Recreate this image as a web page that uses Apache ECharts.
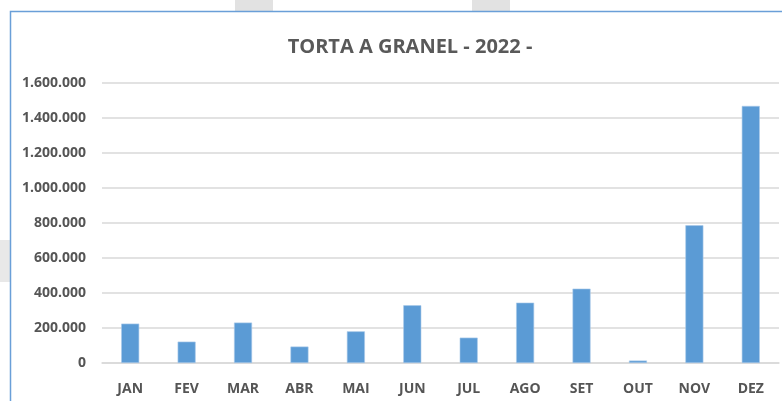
<!DOCTYPE html>
<html>
<head>
<meta charset="utf-8">
<script src="https://cdn.jsdelivr.net/npm/echarts@6/dist/echarts.min.js"></script>
<style>
  html, body { margin: 0; padding: 0; background: #fff; }
  #chart { width: 782px; height: 401px; }
</style>
</head>
<body>
<div id="chart"></div>
<script>
const months = ['JAN', 'FEV', 'MAR', 'ABR', 'MAI', 'JUN', 'JUL', 'AGO', 'SET', 'OUT', 'NOV', 'DEZ'];
const volumes = [225000, 122000, 231000, 94000, 181000, 330000, 145000, 345000, 425000, 14000, 787000, 1469000];
const yTicks = [0, 200000, 400000, 600000, 800000, 1000000, 1200000, 1400000, 1600000];

const labelFont = '"Liberation Sans Narrow", "Open Sans", sans-serif';

// 1600000 -> 1.600.000
function fmt(v) {
  return String(v).replace(/\B(?=(\d{3})+(?!\d))/g, '.');
}

const chart = echarts.init(document.getElementById('chart'));

chart.setOption({
  animation: false,
  title: {
    text: 'TORTA A GRANEL - 2022 -',
    left: 405,
    textAlign: 'center',
    top: 32,
    textStyle: {
      fontFamily: labelFont,
      fontSize: 20,
      fontWeight: 'bold',
      color: '#595959'
    }
  },
  graphic: [
    // pieces of the page behind the chart box
    { type: 'rect', shape: { x: 235, y: 0, width: 38, height: 12 }, style: { fill: '#e2e2e2' }, z: -10 },
    { type: 'rect', shape: { x: 472, y: 0, width: 38, height: 12 }, style: { fill: '#e2e2e2' }, z: -10 },
    { type: 'rect', shape: { x: 0, y: 240, width: 10, height: 42 }, style: { fill: '#e8e8e8' }, z: -10 },
    // chart box border
    {
      type: 'polyline',
      shape: { points: [[10.5, 410], [10.5, 11.5], [800, 11.5]] },
      style: { stroke: '#6a9fd8', lineWidth: 1.5, fill: null },
      z: -5
    }
  ],
  grid: {
    left: 102,
    right: 3,
    top: 83,
    bottom: 38
  },
  xAxis: {
    type: 'category',
    data: months,
    axisTick: { show: false },
    axisLine: { lineStyle: { color: '#d9d9d9', width: 1.5 } },
    axisLabel: {
      margin: 19,
      fontFamily: labelFont,
      fontSize: 14,
      fontWeight: 'bold',
      color: '#555555'
    }
  },
  yAxis: {
    type: 'value',
    min: yTicks[0],
    max: yTicks[yTicks.length - 1],
    interval: 200000,
    axisLine: { show: false },
    axisTick: { show: false },
    splitLine: { lineStyle: { color: '#d9d9d9', width: 1.5 } },
    axisLabel: {
      margin: 16,
      fontFamily: labelFont,
      fontSize: 14,
      fontWeight: 'bold',
      color: '#555555',
      formatter: fmt
    }
  },
  series: [
    {
      type: 'bar',
      data: volumes,
      barWidth: 18,
      itemStyle: {
        color: '#5b9bd5',
        borderColor: '#a9c9ea',
        borderWidth: 0.6
      }
    }
  ]
});
</script>
</body>
</html>
